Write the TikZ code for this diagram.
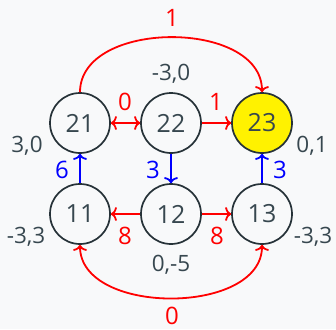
\documentclass[tikz,border=0pt]{standalone}
\usepackage{fontspec}
\setmainfont{Open Sans}
\usetikzlibrary{arrows.meta}
\definecolor{bgc}{RGB}{248,249,250}
\definecolor{ink}{RGB}{55,71,79}
\definecolor{rim}{RGB}{38,50,56}
\definecolor{sun}{RGB}{255,242,0}
\begin{document}
\begin{tikzpicture}[x=1pt,y=-1pt,
  state/.style={circle,draw=rim,line width=1.7pt,minimum size=60pt,inner sep=0pt,text=ink,font=\fontsize{25}{25}\selectfont},
  pay/.style={text=ink,font=\fontsize{22.5}{22.5}\selectfont},
  redarr/.style={draw=red,line width=1.8pt,-{Computer Modern Rightarrow[length=6pt,width=14pt]}},
  bothred/.style={draw=red,line width=1.8pt,{Computer Modern Rightarrow[length=6pt,width=14pt]}-{Computer Modern Rightarrow[length=6pt,width=14pt]}},
  bluearr/.style={draw=blue,line width=1.8pt,-{Computer Modern Rightarrow[length=6pt,width=14pt]}},
  rl/.style={text=red,font=\fontsize{24}{24}\selectfont},
  bl/.style={text=blue,font=\fontsize{24}{24}\selectfont}]
\fill[bgc] (0,0) rectangle (336,329);
\useasboundingbox (0,0) rectangle (336,329);
\node[state] (n21) at (80,123) {21};
\node[state] (n22) at (171,123) {22};
\node[state,fill=sun] (n23) at (262,123) {23};
\node[state] (n11) at (80,214) {11};
\node[state] (n12) at (171,214) {12};
\node[state] (n13) at (262,214) {13};
% payoffs
\node[pay] (p21) at (27,146) {3,0};
\node[pay] (p22) at (171,74) {-3,0};
\node[pay] (p23) at (312,146) {0,1};
\node[pay] (p11) at (26,237) {-3,3};
\node[pay] (p13) at (313,237) {-3,3};
\node[pay] (p12) at (171,265) {0,-5};
% red arrows
\draw[redarr] (n21.north) to[out=90,in=90,looseness=1.03] (n23.north);
\node[rl] (l1) at (172,18) {1};
\draw[bothred] (n11.south) to[out=-90,in=-90,looseness=1] (n13.south);
\node[rl] (l0b) at (172,316) {0};
\draw[bothred] (n21) -- (n22);
\node[rl] (l0) at (125,102) {0};
\draw[redarr] (n22) -- (n23);
\node[rl] (l1b) at (216,102) {1};
\draw[redarr] (n12) -- (n11);
\node[rl] (l8a) at (125,236) {8};
\draw[redarr] (n12) -- (n13);
\node[rl] (l8b) at (217,236) {8};
% blue arrows
\draw[bluearr] (n11) -- (n21);
\node[bl] (l6) at (62,170) {6};
\draw[bluearr] (n22) -- (n12);
\node[bl] (l3a) at (153,170) {3};
\draw[bluearr] (n13) -- (n23);
\node[bl] (l3b) at (280,170) {3};
\end{tikzpicture}
\end{document}
